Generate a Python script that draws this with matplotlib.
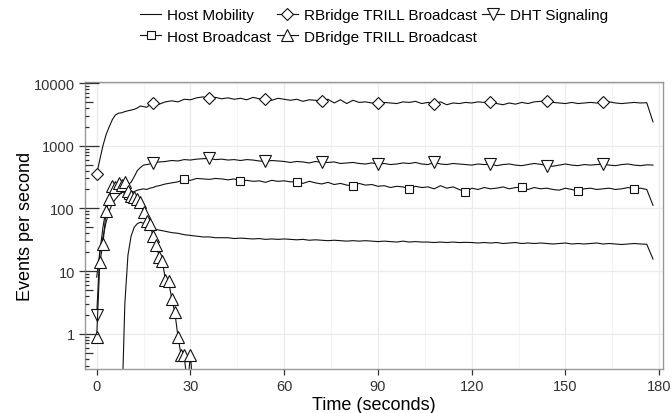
import numpy as np
import matplotlib; matplotlib.use("Agg"); import matplotlib.pyplot as plt
from matplotlib.ticker import NullLocator, FixedLocator
plt.rcParams['font.family'] = ['Liberation Sans', 'DejaVu Sans']

# time axis: 1 s steps up to 20 s, then 2 s steps
t = list(range(0, 21)) + list(range(22, 179, 2))

rbridge = [350, 600, 1000, 1500, 2000, 2600, 3100, 3300, 3350, 3500, 3600,
           3700, 3800, 4000, 4300, 4200, 4100, 4500, 4800, 4400, 4600,
           5000, 5200, 5000, 5500, 5400, 5800, 6000, 5700, 5900, 5600,   # 22-40
           5800, 5500, 5700, 5400, 5900, 5600, 5500, 5300, 5700, 5500,   # 42-60
           5300, 5500, 5100, 5400, 5300, 5200, 5500, 4800, 5400, 4700,   # 62-80
           5300, 4900, 5000, 4800, 4750, 4900, 4800, 4700, 5000, 4900,   # 82-100
           5100, 4700, 4900, 4650, 5000, 4500, 4800, 4700, 4900, 4800,   # 102-120
           5000, 4900, 5000, 4700, 4500, 4800, 4600, 4900, 4700, 5000,   # 122-140
           5100, 5200, 4900, 4800, 4700, 4900, 4700, 4800, 4900, 4800,   # 142-160
           4900, 5000, 4800, 4700, 4800, 4900, 4800, 4850, 2400]         # 162-178

dht = [2, 20, 50, 100, 160, 200, 220, 230, 240, 250, 240,
       260, 320, 400, 450, 490, 500, 510, 530, 540, 550,
       560, 580, 570, 600, 590, 610, 620, 625, 600, 610,
       590, 600, 580, 600, 590, 570, 560, 580, 570, 560,
       540, 560, 550, 530, 560, 540, 540, 550, 520, 530,
       540, 520, 510, 530, 510, 520, 500, 510, 530, 520,
       540, 510, 500, 540, 510, 500, 520, 510, 500, 490,
       510, 500, 510, 480, 500, 510, 490, 480, 500, 520,
       505, 480, 470, 490, 510, 490, 480, 500, 490, 500,
       505, 490, 480, 500, 510, 490, 480, 495, 490]

host_bcast = [8, 20, 35, 60, 90, 120, 140, 160, 180, 175, 165,
              175, 185, 195, 200, 205, 200, 210, 215, 225, 230,
              245, 255, 265, 290, 280, 300, 295, 290, 300, 295,
              285, 295, 270, 280, 270, 275, 260, 280, 270, 275,
              265, 265, 250, 270, 255, 245, 260, 240, 250, 235,
              230, 250, 235, 240, 225, 230, 215, 225, 220, 205,
              225, 215, 220, 205, 230, 210, 220, 200, 180, 210,
              200, 215, 205, 210, 220, 205, 215, 216, 200, 215,
              205, 210, 200, 195, 210, 200, 190, 205, 210, 200,
              205, 210, 200, 205, 215, 204, 210, 200, 112]

nan = np.nan
host_mob = [nan, nan, nan, nan, nan, nan, nan, nan, 0.05, 3, 18,
            36, 50, 57, 60, 58, 55, 50, 48, 46, 45,
            43, 41, 40, 38, 37, 36, 35, 35, 34, 34,
            34, 33, 33.5, 33, 32.5, 33, 32, 32.5, 32, 32.5,
            32, 31.5, 32, 31, 31.5, 31, 30.5, 31, 30.5, 30,
            30.5, 30, 30.5, 30, 29.5, 30, 29.5, 29, 30, 29,
            29.5, 29, 29, 28.5, 29, 28.5, 29, 28.5, 28.7, 28.5,
            28, 28.5, 28, 28.5, 27.5, 28, 28.5, 27.5, 28, 27.5,
            28, 27.5, 27, 27.5, 28, 27, 27.5, 27, 27.5, 28,
            27, 27.5, 27, 26.5, 27, 27.5, 27, 26.8, 15.5]

t_db = list(range(0, 32))
dbridge = [0.9, 14, 27, 90, 140, 230, 220, 250, 240, 260, 190, 160, 150, 140, 125, 86,
           62, 57, 36, 26, 17, 14.5, 7.2, 7.0, 3.6, 2.2, 0.9, 0.45, 0.45, 0.15, 0.45, 0.1]

fig = plt.figure(figsize=(6.72, 4.14), dpi=100)
ax = fig.add_axes([85.3/672, 44/414, (663-85.3)/672, (370-82.5)/414])
ax.set_yscale("log")
ax.set_xlim(-3.65, 181.2); ax.set_ylim(10**-0.563, 10**4.024)

kw = dict(color="#111111", lw=0.8, mfc="white", mec="#111111", mew=0.8)
h_hm, = ax.plot(t, host_mob, label="Host Mobility", **kw)
h_hb, = ax.plot(t, host_bcast, marker="s", ms=6, markevery=[i for i, v in enumerate(t) if v % 18 == 10],
                label="Host Broadcast", **kw)
h_rb, = ax.plot(t, rbridge, marker="D", ms=6, markevery=[i for i, v in enumerate(t) if v % 18 == 0],
                label="RBridge TRILL Broadcast", **kw)
h_dht, = ax.plot(t, dht, marker="v", ms=8, markevery=[i for i, v in enumerate(t) if v % 18 == 0],
                 label="DHT Signaling", **kw)
h_db, = ax.plot(t_db, dbridge, marker="^", ms=8, label="DBridge TRILL Broadcast", **kw)

# grid, ggplot-like
ax.set_xticks(range(0, 181, 30))
ax.xaxis.set_minor_locator(FixedLocator(range(15, 181, 30)))
ax.set_yticks([1, 10, 100, 1000, 10000])
ax.set_yticklabels(["1", "10", "100", "1000", "10000"])
ax.yaxis.set_minor_locator(NullLocator())
ax.grid(which="major", color="#EBEBEB", lw=0.9)
ax.grid(which="minor", axis="x", color="#F3F3F3", lw=0.6)
ax.set_axisbelow(True)
for s in ax.spines.values():
    s.set_color("#999999"); s.set_linewidth(1.0)
ax.tick_params(which="major", length=4.5, width=0.9, color="#333333", labelsize=10.5,
               labelcolor="#333333", pad=3)
ax.tick_params(which="minor", length=0)

# log tick annotation inside left edge
for d in range(-1, 5):
    for k in range(1, 10):
        v = k * 10.0**d
        if v < ax.get_ylim()[0] or v > ax.get_ylim()[1]:
            continue
        L = 0.023 if k == 1 else (0.014 if k == 5 else 0.007)
        ax.hlines(v, 0, L, transform=ax.get_yaxis_transform(), color="#333333", lw=0.9, zorder=5)

ax.set_xlabel("Time (seconds)", fontsize=13, labelpad=2)
ax.set_ylabel("Events per second", fontsize=13, labelpad=0)

fig.legend(handles=[h_hm, h_hb, h_rb, h_db, h_dht], ncol=3, loc="upper center",
           bbox_to_anchor=(374/672, 1.0), frameon=False, fontsize=11,
           handlelength=1.4, handletextpad=0.4, columnspacing=0.35, labelspacing=0.5,
           borderaxespad=0.2)

fig.savefig("out.png", dpi=100)
